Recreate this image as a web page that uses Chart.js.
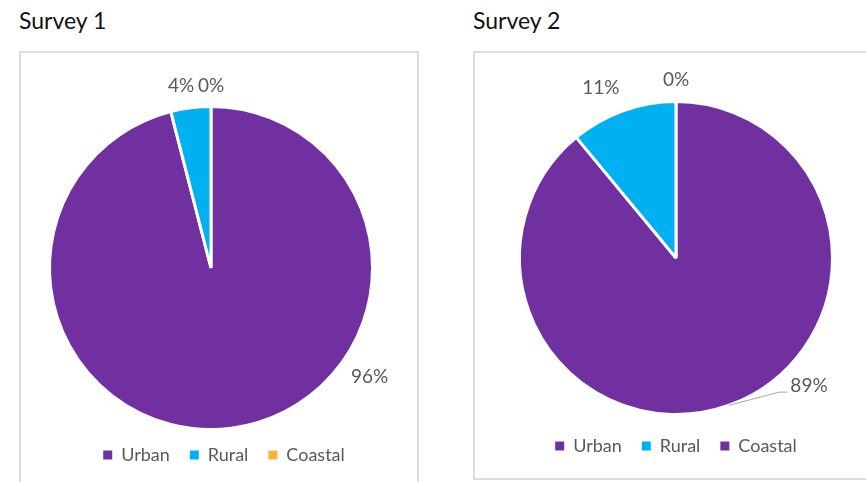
<!DOCTYPE html>
<html>
<head>
<meta charset="utf-8">
<script src="https://cdn.jsdelivr.net/npm/chart.js@4/dist/chart.umd.min.js"></script>
<style>
  html, body { margin: 0; padding: 0; background: #fff; }
  body { width: 866px; height: 482px; position: relative; overflow: hidden; font-family: Lato, sans-serif; }
  .title { position: absolute; top: 6px; font-size: 23px; color: #111; }
  .frame { position: absolute; border: 2px solid #dddddd; box-sizing: border-box; }
  canvas { position: absolute; }
</style>
</head>
<body>
<div class="title" style="left:19px">Survey 1</div>
<div class="title" style="left:473px">Survey 2</div>
<div class="frame" style="left:19px; top:51px; width:400px; height:500px"></div>
<div class="frame" style="left:473px; top:51px; width:420px; height:429px"></div>
<canvas id="c1" width="398" height="430" style="left:20px; top:52px"></canvas>
<canvas id="c2" width="392" height="427" style="left:474px; top:52px"></canvas>
<script>
// Area type split for the two surveys (percent of respondents)
const categories = ['Urban', 'Rural', 'Coastal'];
const survey1Values = [96, 4, 0];
const survey2Values = [89, 11, 0];

const survey1Colors = ['#7030a0', '#00b0f0', '#ffb13b'];
const survey2Colors = ['#7030a0', '#00b0f0', '#7030a0'];

// where each % label sits: [fraction along the slice, distance in radii]
const survey1LabelAt = [[0.36, 1.19], [0.35, 1.14], [0.5, 1.13]];
const survey2LabelAt = [[0.418, 1.18], [0.40, 1.19], [0.5, 1.14]];

const FONT = 'Lato, sans-serif';
const GREY = '#595959';

// percent labels drawn outside the pie, with an optional leader line
function pctLabels(place, leaders) {
  return {
    id: 'pctLabels',
    afterDatasetsDraw(chart) {
      const { ctx } = chart;
      const meta = chart.getDatasetMeta(0);
      const values = chart.data.datasets[0].data;
      const total = values.reduce((a, b) => a + b, 0);
      ctx.save();
      ctx.font = '19px ' + FONT;
      ctx.fillStyle = GREY;
      ctx.textAlign = 'center';
      ctx.textBaseline = 'middle';
      meta.data.forEach((arc, i) => {
        const { x, y, startAngle, endAngle, outerRadius } =
          arc.getProps(['x', 'y', 'startAngle', 'endAngle', 'outerRadius'], true);
        const [frac, dist] = place[i];
        const a = startAngle + (endAngle - startAngle) * frac;
        const lx = x + Math.cos(a) * outerRadius * dist;
        const ly = y + Math.sin(a) * outerRadius * dist;
        const text = Math.round(values[i] / total * 100) + '%';
        ctx.fillText(text, lx, ly);
        if (leaders[i]) {
          const mid = (startAngle + endAngle) / 2;
          const w = ctx.measureText(text).width;
          ctx.strokeStyle = '#a6a6a6';
          ctx.lineWidth = 1;
          ctx.beginPath();
          ctx.moveTo(x + Math.cos(mid) * outerRadius, y + Math.sin(mid) * outerRadius);
          ctx.lineTo(lx - w / 2 - 11, ly + 6);
          ctx.lineTo(lx - w / 2 - 3, ly + 6);
          ctx.stroke();
        }
      });
      ctx.restore();
    }
  };
}

// slide the legend row sideways without touching the pie's position
function legendNudge(dx) {
  return {
    id: 'legendNudge',
    afterLayout(chart) {
      chart.legend.left += dx;
      chart.legend.right += dx;
    }
  };
}

function makePie(id, values, colors, radius, padding, labelAt, leaders, dx) {
  return new Chart(document.getElementById(id), {
    type: 'pie',
    data: {
      labels: categories,
      datasets: [{
        data: values,
        backgroundColor: colors,
        borderColor: '#ffffff',
        borderWidth: 3,
        radius: radius
      }]
    },
    options: {
      responsive: false,
      animation: false,
      events: [],
      layout: { padding: padding },
      plugins: {
        tooltip: { enabled: false },
        legend: {
          position: 'bottom',
          labels: {
            color: GREY,
            font: { family: FONT, size: 18 },
            boxWidth: 9,
            boxHeight: 9,
            padding: 20,
            generateLabels: chart => Chart.overrides.pie.plugins.legend.labels
              .generateLabels(chart).map(item => ({ ...item, lineWidth: 0 }))
          }
        }
      }
    },
    plugins: [pctLabels(labelAt, leaders), legendNudge(dx)]
  });
}

makePie('c1', survey1Values, survey1Colors, 161.5,
  { top: 58, bottom: 8, left: 0, right: 16 }, survey1LabelAt, [false, false, false], 13);
makePie('c2', survey2Values, survey2Colors, 156.5,
  { top: 47, bottom: 14, left: 12, right: 0 }, survey2LabelAt, [true, false, false], 0);
</script>
</body>
</html>
